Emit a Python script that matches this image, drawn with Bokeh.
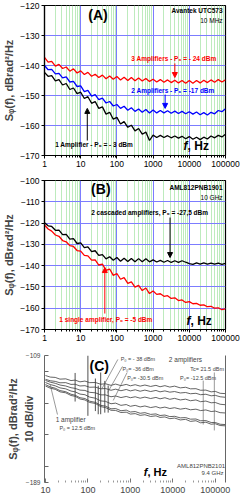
import math
from bokeh.plotting import figure
from bokeh.layouts import column
from bokeh.models import (Label, Arrow, NormalHead, FixedTicker, NumeralTickFormatter,
                          LinearAxis, Range1d)
from bokeh.embed import file_html
from bokeh.resources import INLINE

FONT = "Liberation Sans"

# ---------------- data ----------------
freq_ab = [1, 1.26, 1.58, 2, 2.51, 3.16, 3.98, 5.01, 6.31, 7.94,
           10, 12.6, 15.8, 20, 25.1, 31.6, 39.8, 50.1, 63.1, 79.4,
           100, 126, 158, 200, 251, 316, 398, 501, 631, 794,
           1000, 1259, 1585, 1995, 2512, 3162, 3981, 5012, 6310, 7943,
           10000, 12589, 15849, 19953, 25119, 31623, 39811, 50119, 63096, 79433, 100000]

# Panel A : Avantek UTC573, 10 MHz
a_three_amp = [-137.3, -138.9, -138.6, -140.2, -139.6, -141.0, -140.5, -141.9, -141.1, -142.5,
               -141.8, -143.0, -142.3, -143.6, -142.9, -144.0, -143.2, -144.4, -143.5, -144.6,
               -143.7, -144.8, -143.9, -145.0, -144.0, -145.1, -144.2, -145.2, -144.3, -145.3,
               -144.6, -145.5, -144.7, -145.6, -144.8, -145.7, -144.9, -145.8, -145.0, -145.9,
               -145.0, -145.9, -145.0, -145.8, -144.9, -145.7, -144.8, -145.6, -144.7, -145.5, -144.8]
a_two_amp = [-140.0, -141.4, -141.3, -142.8, -142.6, -144.1, -143.8, -145.5, -145.3, -147.0,
             -146.8, -148.7, -148.3, -150.2, -149.7, -151.4, -150.9, -152.5, -152.0, -153.5,
             -153.0, -154.3, -153.6, -154.9, -154.1, -155.3, -154.5, -155.6, -154.7, -155.8,
             -154.8, -155.8, -155.0, -155.8, -155.1, -155.9, -155.2, -156.0, -155.3, -156.1,
             -155.4, -156.2, -155.5, -156.4, -155.7, -156.5, -155.6, -156.1, -155.0, -155.4, -154.4]
a_one_amp = [-142.3, -143.6, -143.4, -145.1, -144.7, -146.5, -146.0, -148.0, -147.5, -149.4,
             -148.9, -151.0, -150.4, -152.6, -152.0, -154.3, -153.8, -156.2, -155.6, -157.9,
             -157.3, -159.5, -158.7, -160.6, -159.9, -161.8, -161.0, -162.9, -162.2, -165.0,
             -163.2, -164.0, -163.3, -164.0, -163.4, -164.1, -163.5, -164.2, -163.6, -164.4,
             -163.7, -164.6, -163.9, -164.7, -163.9, -164.5, -163.5, -164.1, -163.3, -163.8, -162.9]

# Panel B : AML812PNB1901, 10 GHz
b_cascaded = [-119.8, -121.3, -121.6, -123.4, -123.3, -125.4, -125.3, -127.5, -127.3, -129.6,
              -129.3, -131.5, -131.2, -133.4, -133.0, -135.2, -134.8, -136.8, -135.8, -137.5,
              -136.2, -137.9, -136.5, -138.1, -136.6, -138.2, -136.7, -138.2, -136.8, -138.2,
              -137.3, -138.3, -137.5, -138.4, -137.6, -138.5, -137.7, -138.5, -137.7, -138.4,
              -139.0, -139.4, -138.7, -139.3, -138.7, -139.3, -138.8, -139.3, -138.8, -139.4, -138.9]
b_single = [-120.9, -122.8, -123.8, -125.6, -126.2, -128.2, -128.8, -130.6, -131.0, -132.9,
            -133.2, -135.2, -135.4, -137.4, -137.3, -139.7, -139.3, -142.2, -141.6, -144.6,
            -143.7, -146.4, -145.6, -148.3, -147.6, -150.1, -149.3, -151.7, -150.5, -153.1,
            -151.9, -153.5, -153.2, -154.4, -154.1, -155.4, -155.1, -156.4, -156.1, -157.3,
            -156.9, -157.9, -157.7, -158.6, -158.4, -159.3, -159.1, -160.0, -159.8, -160.7, -160.3]

# Panel C : AML812PNB2101, 9.4 GHz
freq_c = [10, 13, 17, 22, 30, 40, 50, 65, 85, 110, 150, 200, 260, 350, 450, 600, 800,
          1000, 1300, 1700, 2200, 3000, 4000, 5000, 6500, 8500, 11000, 15000, 20000,
          26000, 35000, 45000, 60000, 80000, 100000, 130000, 170000]
c_two_m38 = [-121.6, -122.6, -122.8, -123.9, -123.7, -124.8, -124.5, -125.6, -125.1, -126.1,
             -126.0, -127.1, -126.8, -127.8, -127.0, -128.0, -127.2, -128.1, -127.4, -128.3,
             -127.6, -128.5, -127.8, -128.7, -128.0, -128.9, -128.3, -129.4, -129.0, -130.0,
             -129.9, -130.9, -130.8, -131.9, -131.6, -132.8, -133.0]
c_two_m36 = [-124.0, -124.9, -125.3, -126.2, -126.1, -127.2, -127.1, -128.2, -128.0, -129.0,
             -128.9, -130.0, -129.8, -130.9, -130.2, -131.2, -130.4, -131.3, -130.6, -131.5,
             -130.8, -131.7, -131.0, -131.9, -131.3, -132.1, -131.7, -132.6, -132.3, -133.1,
             -132.8, -133.7, -133.4, -134.4, -134.1, -135.0, -135.3]
c_two_m30 = [-124.7, -125.8, -126.5, -127.6, -128.2, -129.3, -129.7, -130.8, -131.0, -132.2,
             -132.5, -133.8, -133.8, -135.0, -134.5, -135.5, -134.8, -135.6, -135.0, -135.9,
             -135.2, -136.1, -135.4, -136.3, -135.6, -136.6, -136.0, -137.0, -136.5, -137.5,
             -137.0, -138.1, -137.7, -138.8, -138.6, -139.7, -140.0]
c_two_m12 = [-126.0, -127.3, -128.1, -129.4, -130.0, -131.4, -131.9, -133.3, -133.7, -135.2,
             -135.9, -137.6, -137.9, -139.4, -139.0, -140.4, -139.9, -141.0, -140.4, -141.4,
             -140.8, -141.8, -141.2, -142.1, -141.5, -142.4, -141.9, -142.8, -142.3, -143.2,
             -142.8, -143.7, -143.3, -144.3, -144.0, -145.0, -145.2]
c_one_a = [-127.3, -128.8, -129.6, -131.1, -131.8, -133.4, -134.0, -135.6, -136.1, -137.8,
           -138.5, -140.4, -140.9, -142.6, -142.4, -143.8, -143.4, -144.6, -144.3, -145.4,
           -145.0, -146.1, -145.8, -146.8, -146.5, -147.5, -147.3, -148.3, -148.1, -149.1,
           -149.0, -150.1, -150.0, -151.2, -151.2, -152.3, -152.5]
c_one_b = [-128.2, -129.6, -130.3, -131.9, -132.5, -134.2, -134.7, -136.4, -137.0, -138.6,
           -139.2, -141.2, -141.8, -143.5, -143.6, -144.9, -144.7, -145.9, -145.6, -146.7,
           -146.3, -147.4, -147.0, -148.0, -147.7, -148.8, -148.4, -149.6, -149.2, -150.5,
           -150.1, -151.4, -151.0, -152.3, -152.0, -153.1, -153.3]
spike_freq = [50, 100, 150, 175, 200, 250, 300]
spike_top = [-120.0, -109.0, -123.5, -128.0, -119.7, -125.0, -127.9]
spike_bottom = [-138.0, -147.0, -144.0, -146.0, -146.0, -145.0, -145.0]

xticks_ab = [1, 10, 100, 1000, 10000, 100000]
xticks_c = [10, 100, 1000, 10000, 100000]
yticks_a = [-170, -160, -150, -140, -130, -120]
yticks_b = [-170, -160, -150, -140, -130, -120, -110, -100]
yticks_c = [-189, -109]
yticks_c_minor = [-179, -159, -139, -119]

RED = "#ff0000"
BLUE = "#0000ff"
GRID_MAJOR = "#7c7cff"
GRID_MINOR = "#bdebbd"
GRAY = "#3c3c3c"
TXT_GRAY = "#444444"

YLABEL = "S\u1d69(f), dBrad\u00b2/Hz"


def minor_of(ticks, last):
    out = []
    for t in ticks:
        for m in range(2, 10):
            if t * m <= last:
                out.append(t * m)
    return out


def label(p, x, y, s, size, color="black", style="bold", align="left",
          baseline="middle", angle=0.0):
    p.add_layout(Label(x=x, y=y, text=s, text_font=FONT, text_font_size=f"{size}px",
                       text_font_style=style, text_color=color, text_align=align,
                       text_baseline=baseline, angle=angle))


def arrow(p, x, y0, y1, color):
    p.add_layout(Arrow(end=NormalHead(size=5, fill_color=color, line_color=color),
                       x_start=x, y_start=y0, x_end=x, y_end=y1,
                       line_color=color, line_width=1))


def panel_ab(height, top, bottom, yr, yticks):
    p = figure(width=246, height=height, x_axis_type="log",
               x_range=Range1d(1, 100000), y_range=Range1d(*yr),
               output_backend="svg", toolbar_location=None,
               min_border_top=top, min_border_bottom=bottom,
               min_border_left=39, min_border_right=21)
    p.background_fill_color = "white"
    p.border_fill_color = "white"
    p.outline_line_color = "black"
    p.outline_line_width = 1.2
    xt = FixedTicker(ticks=xticks_ab, minor_ticks=minor_of(xticks_ab, 100000))
    yt = FixedTicker(ticks=yticks)
    xa = p.xaxis[0]
    ya = p.yaxis[0]
    xa.ticker = xt
    ya.ticker = yt
    p.xgrid[0].ticker = xt
    p.ygrid[0].ticker = yt
    xa.formatter = NumeralTickFormatter(format="0")
    for ax in (xa, ya):
        ax.major_label_text_font = FONT
        ax.major_label_text_font_size = "8.5px"
        ax.major_label_text_color = "black"
        ax.axis_line_width = 1.2
        ax.major_tick_out = 3
        ax.major_tick_in = 0
        ax.minor_tick_out = 2
        ax.minor_tick_in = 0
        ax.major_label_standoff = 2
    ya.minor_tick_line_color = None
    ya.axis_label = YLABEL
    ya.axis_label_text_font = FONT
    ya.axis_label_text_font_size = "11px"
    ya.axis_label_text_font_style = "bold"
    ya.axis_label_standoff = 2
    p.xgrid.grid_line_color = GRID_MAJOR
    p.xgrid.minor_grid_line_color = GRID_MINOR
    p.ygrid.grid_line_color = GRID_MAJOR
    return p


# ---------------- panel A ----------------
pA = panel_ab(172, 5, 17, (-170, -120), yticks_a)
pA.line(freq_ab, a_three_amp, line_color=RED, line_width=1.3)
pA.line(freq_ab, a_two_amp, line_color=BLUE, line_width=1.3)
pA.line(freq_ab, a_one_amp, line_color="black", line_width=1.3)
label(pA, 30, -123.3, "(A)", 14, align="center")
label(pA, 83000, -121.7, "Avantek UTC573", 6.5, align="right")
label(pA, 83000, -125.0, "10 MHz", 6.5, style="normal", align="right")
label(pA, 3760, -137.7, "3 Amplifiers - P\u2080 = - 24 dBm", 6.5, color=RED, align="center")
label(pA, 3530, -148.3, "2 Amplifiers - P\u2080 = -17 dBm", 6.5, color=BLUE, align="center")
label(pA, 23.5, -166.3, "1 Amplifier - P\u2080 = - 3 dBm", 6.5, align="center")
arrow(pA, 3990, -139.3, -144.0, RED)
arrow(pA, 2150, -149.7, -154.3, BLUE)
arrow(pA, 15.2, -165.0, -154.3, "black")
label(pA, 8950, -166.7, "f", 12, style="bold italic", align="right")
label(pA, 8950, -166.7, ", Hz", 12, align="left")

# ---------------- panel B ----------------
pB = panel_ab(173, 8, 16, (-170, -100), yticks_b)
pB.line(freq_ab, b_cascaded, line_color="black", line_width=1.3)
pB.line(freq_ab, b_single, line_color=RED, line_width=1.3)
label(pB, 36, -104.2, "(B)", 14, align="center")
label(pB, 83000, -103.3, "AML812PNB1901", 6.5, align="right")
label(pB, 83000, -108.0, "10 GHz", 6.5, style="normal", align="right")
label(pB, 800, -115.0, "2 cascaded amplifiers, P\u2080 = -27,5 dBm", 6.5, align="center")
arrow(pB, 2940, -117.4, -136.2, "black")
label(pB, 49.4, -165.3, "1 single amplifier, P\u2080 = -5 dBm", 6.5, color=RED, align="center")
arrow(pB, 46.4, -162.5, -140.9, RED)
label(pB, 10800, -165.8, "f", 12, style="bold italic", align="right")
label(pB, 10800, -165.8, ", Hz", 12, align="left")

# ---------------- panel C ----------------
pC = figure(width=246, height=153, x_axis_type="log",
            x_range=Range1d(9.5, 174000), y_range=Range1d(-189, -109),
            output_backend="svg", toolbar_location=None,
            min_border_top=10, min_border_bottom=16,
            min_border_left=38, min_border_right=13)
pC.background_fill_color = "white"
pC.border_fill_color = "white"
pC.outline_line_color = None
pC.grid.visible = False
xtc = FixedTicker(ticks=xticks_c, minor_ticks=minor_of(xticks_c, 170000))
xc = pC.xaxis[0]
yc = pC.yaxis[0]
xc.ticker = xtc
xc.formatter = NumeralTickFormatter(format="0")
xc.axis_line_color = None
xc.major_tick_line_color = "#777777"
xc.minor_tick_line_color = "#999999"
xc.major_tick_in = 4
xc.major_tick_out = 0
xc.minor_tick_in = 2
xc.minor_tick_out = 0
xc.major_label_text_font = FONT
xc.major_label_text_font_size = "9px"
xc.major_label_standoff = 4
yc.ticker = FixedTicker(ticks=yticks_c, minor_ticks=yticks_c_minor)
yc.major_label_text_font = FONT
yc.major_label_text_font_size = "6.5px"
yc.major_label_text_color = TXT_GRAY
yc.axis_line_color = "#666666"
yc.major_tick_line_color = "#666666"
yc.minor_tick_line_color = "#666666"
yc.major_tick_in = 4
yc.major_tick_out = 0
yc.minor_tick_in = 4
yc.minor_tick_out = 0
yc.major_label_standoff = 4
yc.axis_label = "10 dB/div"
yc.axis_label_text_font = FONT
yc.axis_label_text_font_size = "10.5px"
yc.axis_label_text_font_style = "bold"
yc.axis_label_standoff = -12
outer = LinearAxis(ticker=FixedTicker(ticks=[]), axis_line_color=None,
                   major_tick_line_color=None, minor_tick_line_color=None,
                   axis_label=YLABEL, axis_label_text_font=FONT,
                   axis_label_text_font_size="11px", axis_label_text_font_style="bold",
                   axis_label_standoff=1)
pC.add_layout(outer, "left")
rax = LinearAxis(ticker=FixedTicker(ticks=[]), axis_line_color="#666666",
                 major_tick_line_color=None, minor_tick_line_color=None)
pC.add_layout(rax, "right")

for series in (c_two_m38, c_two_m36, c_two_m30, c_two_m12, c_one_a, c_one_b):
    pC.line(freq_c, series, line_color=GRAY, line_width=0.8)
pC.segment(x0=spike_freq, y0=spike_bottom, x1=spike_freq, y1=spike_top,
           line_color=GRAY, line_width=0.9)
# leader lines
pC.segment(x0=[507, 650, 840, 19.2], y0=[-111.5, -115.9, -119.7, -146.2],
           x1=[215, 291, 395, 12.9], y1=[-129.8, -132.3, -137.3, -127.3],
           line_color="#555555", line_width=0.6)
pC.segment(x0=[52000, 95000], y0=[-124.8, -119.7], x1=[52000, 95000], y1=[-152.5, -156.2],
           line_color="#555555", line_width=0.6)

label(pC, 185, -115.3, "(C)", 14, align="center")
label(pC, 590, -111.5, "P\u2080 = - 38 dBm", 5.5, color=TXT_GRAY, style="normal")
label(pC, 650, -117.2, "P\u2080= -36 dBm", 5.5, color=TXT_GRAY, style="normal")
label(pC, 840, -122.9, "P\u2080= -30.5 dBm", 5.5, color=TXT_GRAY, style="normal")
label(pC, 8070, -111.5, "2 amplifiers", 6.5, color=TXT_GRAY, style="normal")
label(pC, 25700, -117.8, "Tc= 21.5 dBm", 5.5, color=TXT_GRAY, style="normal")
label(pC, 14800, -122.9, "P\u2080= -12.5 dBm", 5.5, color=TXT_GRAY, style="normal")
label(pC, 17.4, -149.3, "1 amplifier", 6.5, color=TXT_GRAY, style="normal")
label(pC, 21.3, -154.4, "P\u2080 =  12.5 dBm", 5.5, color=TXT_GRAY, style="normal")
label(pC, 170000, -178.9, "AML812PNB2101", 6, color=TXT_GRAY, style="normal", align="right")
label(pC, 157000, -183.3, "9.4 GHz", 6, color=TXT_GRAY, style="normal", align="right")
label(pC, 2520, -182.7, "f", 11, style="bold italic", align="right")
label(pC, 2520, -182.7, ", Hz", 11, align="left")

layout = column(pA, pB, pC, spacing=0)
open("out.html", "w").write(file_html(layout, INLINE))
